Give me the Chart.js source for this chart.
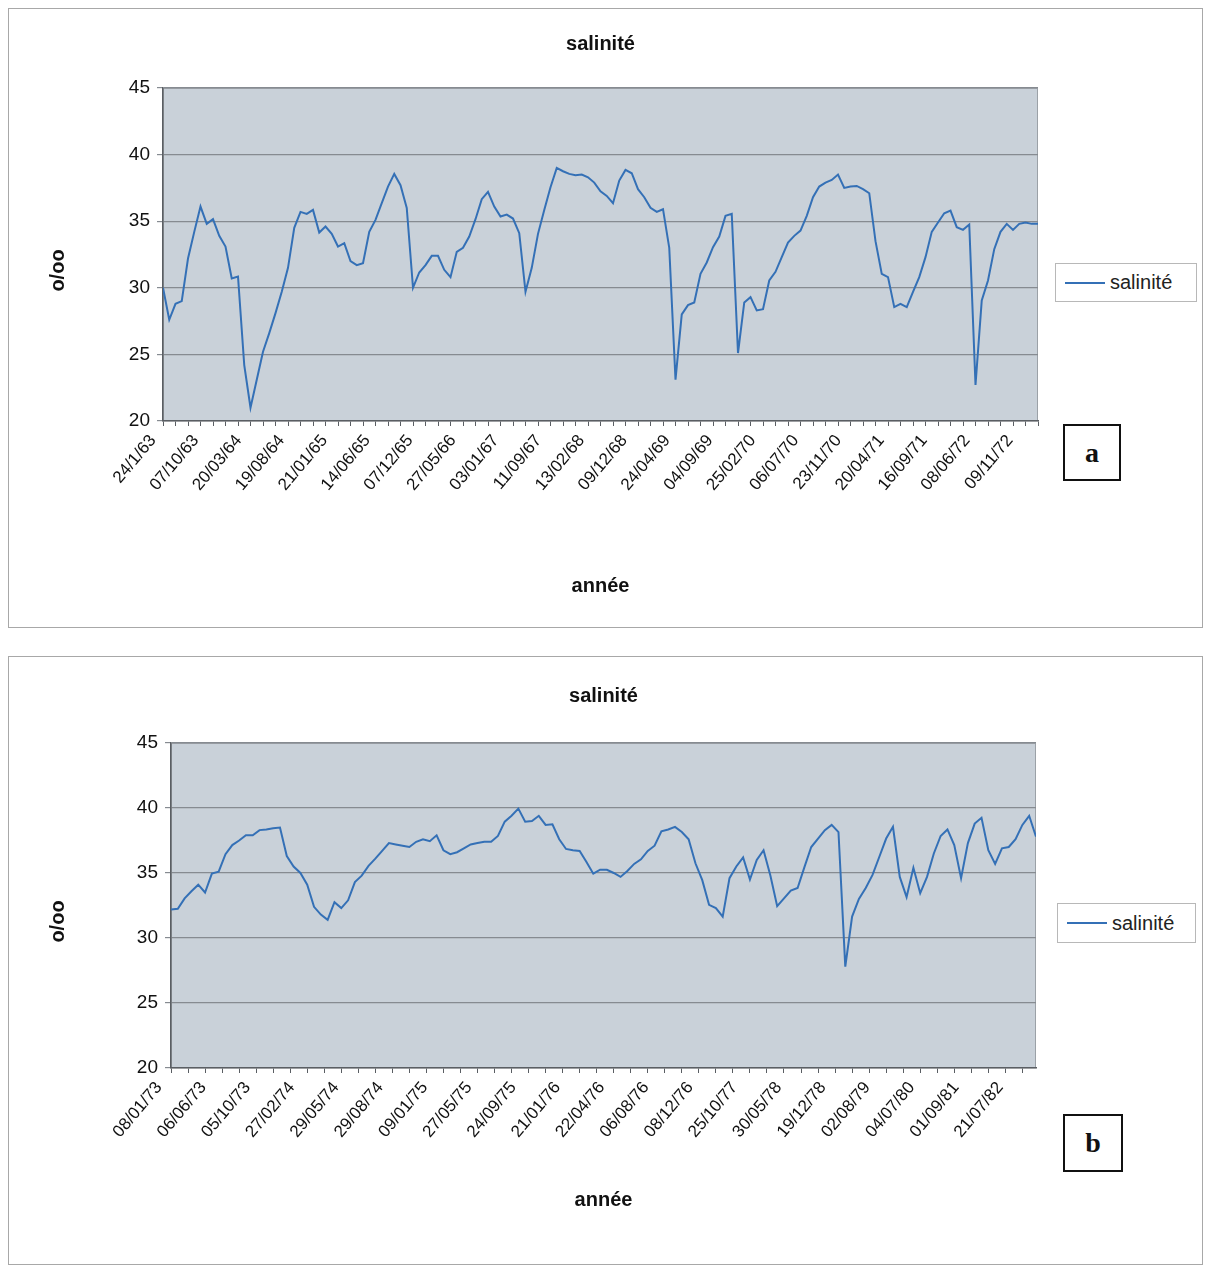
<!DOCTYPE html>
<html>
<head>
<meta charset="utf-8">
<script src="https://cdn.jsdelivr.net/npm/chart.js@4.4.0/dist/chart.umd.min.js"></script>
<style>
  body { margin: 0; background: #fff; width: 1209px; height: 1268px; position: relative; overflow: hidden;
         font-family: "Liberation Sans", Arial, sans-serif; }
  .frame { position: absolute; left: 8px; width: 1193px; border: 1px solid #a8a8a8; background: #fff; }
  .frame canvas { position: absolute; left: 0; top: 0; }
  .legend { position: absolute; box-sizing: border-box; border: 1px solid #b8b8b8; background: #fff;
            font-size: 20px; color: #222; display: flex; align-items: center; }
  .legend i { display: inline-block; width: 40px; height: 2px; background: #3470b6; margin: 0 5px 0 9px; }
  .tag { position: absolute; box-sizing: border-box; border: 2px solid #111; background: #fff;
         font: bold 28px "Liberation Serif", "Times New Roman", serif; color: #111;
         display: flex; align-items: center; justify-content: center; }
</style>
</head>
<body>
<div class="frame" style="top:8px;height:618px">
  <canvas id="chartA" width="1193" height="618"></canvas>
  <div class="legend" style="left:1046px;top:254px;width:142px;height:39px"><i></i>salinité</div>
  <div class="tag" style="left:1054px;top:415px;width:58px;height:57px">a</div>
</div>
<div class="frame" style="top:656px;height:607px">
  <canvas id="chartB" width="1193" height="607"></canvas>
  <div class="legend" style="left:1048px;top:246px;width:139px;height:40px"><i></i>salinité</div>
  <div class="tag" style="left:1054px;top:457px;width:60px;height:58px">b</div>
</div>
<script>
// Salinity (o/oo), read every 2nd sampling date of the original series
const salA = [
  30.0, 27.6, 28.8, 29.0, 32.2, 34.2, 36.1, 34.8, 35.15, 33.9,
  33.1, 30.7, 30.85, 24.2, 21.0, 23.1, 25.2, 26.6, 28.1, 29.7,
  31.5, 34.5, 35.7, 35.55, 35.85, 34.15, 34.6, 34.05, 33.1, 33.35,
  32.0, 31.7, 31.85, 34.2, 35.1, 36.35, 37.6, 38.55, 37.7, 36.0,
  30.0, 31.15, 31.7, 32.4, 32.4, 31.35, 30.8, 32.7, 33.0, 33.85,
  35.15, 36.65, 37.2, 36.1, 35.35, 35.5, 35.2, 34.1, 29.7, 31.5,
  34.05, 35.85, 37.55, 39.0, 38.75, 38.55, 38.45, 38.5, 38.3, 37.9,
  37.25, 36.9, 36.35, 38.05, 38.85, 38.6, 37.4, 36.8, 36.0, 35.7,
  35.9, 33.0, 23.1, 28.0, 28.7, 28.9, 31.05, 31.9, 33.05, 33.85,
  35.4, 35.55, 25.1, 28.9, 29.3, 28.3, 28.4, 30.55, 31.2, 32.3,
  33.4, 33.9, 34.3, 35.4, 36.8, 37.6, 37.9, 38.1, 38.5, 37.5,
  37.6, 37.65, 37.4, 37.1, 33.5, 31.05, 30.8, 28.55, 28.8, 28.55,
  29.7, 30.8, 32.3, 34.2, 34.9, 35.6, 35.8, 34.55, 34.35, 34.75,
  22.7, 29.05, 30.55, 32.9, 34.2, 34.8, 34.35, 34.8, 34.9, 34.8,
  34.8
];

const salB = [
  32.2, 32.25, 33.05, 33.6, 34.1, 33.5, 34.95, 35.1, 36.45, 37.15,
  37.5, 37.9, 37.9, 38.3, 38.35, 38.45, 38.5, 36.3, 35.5, 35.0,
  34.1, 32.4, 31.8, 31.4, 32.75, 32.3, 32.9, 34.3, 34.8, 35.55,
  36.1, 36.7, 37.3, 37.2, 37.1, 37.0, 37.4, 37.6, 37.45, 37.9,
  36.75, 36.45, 36.6, 36.9, 37.2, 37.3, 37.4, 37.4, 37.85, 38.95,
  39.4, 39.95, 38.95, 39.0, 39.4, 38.7, 38.75, 37.6, 36.85, 36.75,
  36.7, 35.85, 34.95, 35.25, 35.25, 35.0, 34.7, 35.15, 35.7, 36.05,
  36.7, 37.1, 38.2, 38.35, 38.55, 38.15, 37.6, 35.75, 34.45, 32.55,
  32.3, 31.65, 34.6, 35.5, 36.2, 34.5, 36.0, 36.75, 34.8, 32.45,
  33.05, 33.65, 33.85, 35.45, 37.0, 37.65, 38.3, 38.7, 38.15, 27.8,
  31.65, 33.0, 33.85, 34.85, 36.25, 37.65, 38.55, 34.7, 33.15, 35.4,
  33.45, 34.7, 36.5, 37.85, 38.35, 37.15, 34.6, 37.3, 38.8, 39.25,
  36.75, 35.7, 36.9, 37.0, 37.6, 38.7, 39.4, 37.8
];

const datesA = [
  '24/1/63', '07/10/63', '20/03/64', '19/08/64', '21/01/65', '14/06/65', '07/12/65',
  '27/05/66', '03/01/67', '11/09/67', '13/02/68', '09/12/68', '24/04/69', '04/09/69',
  '25/02/70', '06/07/70', '23/11/70', '20/04/71', '16/09/71', '08/06/72', '09/11/72'
];

const datesB = [
  '08/01/73', '06/06/73', '05/10/73', '27/02/74', '29/05/74', '29/08/74', '09/01/75',
  '27/05/75', '24/09/75', '21/01/76', '22/04/76', '06/08/76', '08/12/76', '25/10/77',
  '30/05/78', '19/12/78', '02/08/79', '04/07/80', '01/09/81', '21/07/82'
];

const FONT = '"Liberation Sans", Arial, sans-serif';
const LINE_COLOR = '#3470b6';
const GRID_COLOR = '#868b91';
const AXIS_COLOR = '#5a5e63';
const PLOT_BG = '#c9d1d9';
const SAMPLE_STEP = 2; // values above are every 2nd category of the date axis

const plotBg = {
  id: 'plotBg',
  beforeDraw(chart) {
    const { ctx, chartArea: a } = chart;
    ctx.save();
    ctx.fillStyle = PLOT_BG;
    ctx.fillRect(a.left, a.top, a.right - a.left, a.bottom - a.top);
    ctx.strokeStyle = '#9ba1a7';
    ctx.lineWidth = 1;
    ctx.strokeRect(a.left + 0.5, a.top + 0.5, a.right - a.left - 1, a.bottom - a.top - 1);
    ctx.restore();
  }
};

// y axis title, centred a little below the plot middle as in the original
const yTitle = {
  id: 'yTitle',
  afterDraw(chart, args, opts) {
    const { ctx, chartArea: a } = chart;
    ctx.save();
    ctx.translate(opts.x, (a.top + a.bottom) / 2 + opts.shift);
    ctx.rotate(-Math.PI / 2);
    ctx.font = 'bold 20px ' + FONT;
    ctx.fillStyle = '#111';
    ctx.textAlign = 'center';
    ctx.textBaseline = 'middle';
    ctx.fillText('o/oo', 0, 0);
    ctx.restore();
  }
};

function makeSalChart(canvasId, values, dates, cfg) {
  const pts = values.map((v, i) => ({ x: i * SAMPLE_STEP, y: v }));
  const last = (values.length - 1) * SAMPLE_STEP;
  return new Chart(document.getElementById(canvasId), {
    type: 'line',
    data: {
      datasets: [{
        label: 'salinité',
        data: pts,
        borderColor: LINE_COLOR,
        borderWidth: 2,
        pointRadius: 0,
        tension: 0,
        fill: false
      }]
    },
    plugins: [plotBg, yTitle],
    options: {
      responsive: false,
      animation: false,
      layout: { padding: { left: 0, right: cfg.padRight, top: 0, bottom: 0 } },
      plugins: {
        legend: { display: false },
        tooltip: { enabled: false },
        title: {
          display: true,
          text: 'salinité',
          fullSize: false,
          color: '#111',
          font: { family: FONT, size: 20, weight: 'bold' },
          padding: { top: cfg.titleTop, bottom: cfg.titleBottom }
        },
        yTitle: { x: 49, shift: cfg.yTitleShift }
      },
      scales: {
        y: {
          min: 20,
          max: 45,
          afterFit(s) { s.width = cfg.yWidth; },
          ticks: { stepSize: 5, color: '#111', padding: 7, font: { family: FONT, size: 19 } },
          grid: { color: GRID_COLOR, lineWidth: 1.2, tickLength: 6 },
          border: { color: AXIS_COLOR, width: 1.5 }
        },
        // minor tick marks
        x: {
          type: 'linear',
          position: 'bottom',
          weight: 0,
          min: 0,
          max: last,
          afterFit(s) { s.height = 6; },
          afterBuildTicks(s) {
            const t = [];
            for (let v = 0; v <= last; v += cfg.tickEvery) t.push({ value: v });
            s.ticks = t;
          },
          ticks: { display: false },
          grid: { drawOnChartArea: false, tickLength: 5, color: AXIS_COLOR },
          border: { color: AXIS_COLOR, width: 1.5 }
        },
        // date labels
        xl: {
          type: 'linear',
          position: 'bottom',
          weight: 1,
          min: 0,
          max: last,
          afterFit(s) { s.height = cfg.xlHeight; },
          afterBuildTicks(s) { s.ticks = dates.map((d, k) => ({ value: k * cfg.labelEvery })); },
          ticks: {
            autoSkip: false,
            minRotation: 50,
            maxRotation: 50,
            padding: -4,
            labelOffset: cfg.labelShift,
            color: '#111',
            font: { family: FONT, size: 17 },
            callback: (v, k) => dates[k]
          },
          grid: { display: false },
          border: { display: false },
          title: {
            display: true,
            text: 'année',
            color: '#111',
            font: { family: FONT, size: 20, weight: 'bold' },
            padding: { top: 0, bottom: cfg.xTitleBottom }
          }
        }
      }
    }
  });
}

makeSalChart('chartA', salA, datesA, {
  padRight: 164, titleTop: 23, titleBottom: 32,
  yWidth: 154, yTitleShift: 16,
  tickEvery: 4, labelEvery: 13.71, labelShift: -10,
  xlHeight: 200, xTitleBottom: 29
});

makeSalChart('chartB', salB, datesB, {
  padRight: 166, titleTop: 27, titleBottom: 35,
  yWidth: 162, yTitleShift: 16,
  tickEvery: 5, labelEvery: 13, labelShift: -12,
  xlHeight: 190, xTitleBottom: 52
});
</script>
</body>
</html>
